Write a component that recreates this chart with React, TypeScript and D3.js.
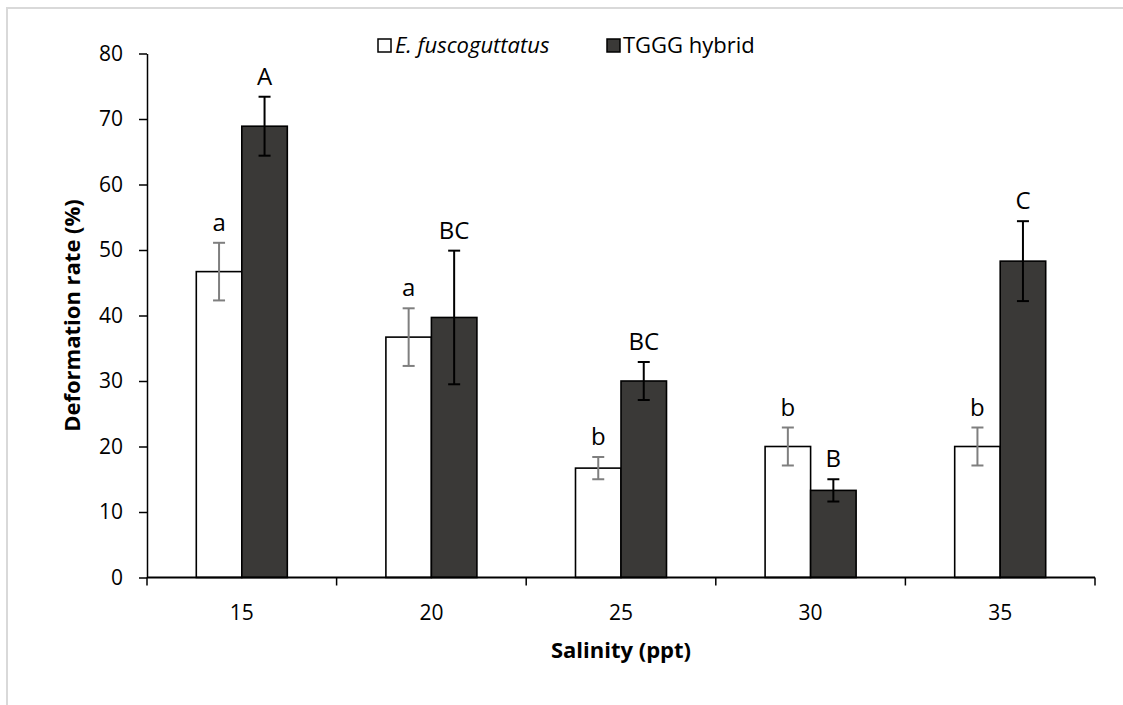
import React, {useEffect, useRef} from 'react'
import * as d3 from 'd3';

const salinity = ['15', '20', '25', '30', '35'];
const fuscoMean = [46.7, 36.7, 16.7, 20.0, 20.0];
const fuscoErr = [4.4, 4.4, 1.7, 2.9, 2.9];
const hybridMean = [68.9, 39.7, 30.0, 13.3, 48.3];
const hybridErr = [4.5, 10.2, 2.9, 1.7, 6.1];
const fuscoLetters = ['a', 'a', 'b', 'b', 'b'];
const hybridLetters = ['A', 'BC', 'BC', 'B', 'C'];
const yTicks = [0, 10, 20, 30, 40, 50, 60, 70, 80];

const FONT = '"Open Sans", "Noto Sans", sans-serif';

export default function App(){
    const svgRef = useRef<SVGSVGElement>(null);

    const W = 1123, H = 705;
    const margin = {top: 53.5, right: 28, left: 147, bottom: 127.5};

    useEffect(() => {
        const svg = d3.select(svgRef.current);
        svg.selectAll('*').remove();

        const x = d3.scaleBand()
            .domain(salinity)
            .range([margin.left, W - margin.right])
            .padding(0);

        const y = d3.scaleLinear()
            .domain([0, 80])
            .range([H - margin.bottom, margin.top]);

        const barW = x.bandwidth() * 0.24;
        const sub = d3.scaleBand()
            .domain(['fusco', 'hybrid'])
            .range([x.bandwidth() / 2 - barW, x.bandwidth() / 2 + barW]);

        // chart area frame: only top and left edges fall inside the picture
        svg.append('path')
            .attr('d', `M7,${H} V8 H${W}`)
            .attr('fill', 'none')
            .attr('stroke', '#d9d9d9')
            .attr('stroke-width', 2);

        const series = [
            {key: 'fusco', mean: fuscoMean, err: fuscoErr, letters: fuscoLetters, fill: '#ffffff', errColor: '#7f7f7f'},
            {key: 'hybrid', mean: hybridMean, err: hybridErr, letters: hybridLetters, fill: '#3a3937', errColor: '#000000'},
        ];

        series.forEach(s => {
            const g = svg.append('g');
            const rows = salinity.map((c, i) => ({c, v: s.mean[i], e: s.err[i], l: s.letters[i]}));

            g.selectAll('rect')
                .data(rows)
                .join('rect')
                .attr('x', d => x(d.c)! + sub(s.key)!)
                .attr('y', d => y(d.v))
                .attr('width', sub.bandwidth())
                .attr('height', d => y(0) - y(d.v))
                .attr('fill', s.fill)
                .attr('stroke', '#000')
                .attr('stroke-width', 1.6);

            const cx = (d: any) => x(d.c)! + sub(s.key)! + sub.bandwidth() / 2;

            g.selectAll('line.err')
                .data(rows)
                .join('line')
                .attr('class', 'err')
                .attr('x1', cx).attr('x2', cx)
                .attr('y1', d => y(d.v - d.e))
                .attr('y2', d => y(d.v + d.e))
                .attr('stroke', s.errColor)
                .attr('stroke-width', 2);

            [1, -1].forEach(sign => {
                g.selectAll('line.cap' + sign)
                    .data(rows)
                    .join('line')
                    .attr('class', 'cap' + sign)
                    .attr('x1', d => cx(d) - 6).attr('x2', d => cx(d) + 6)
                    .attr('y1', d => y(d.v + sign * d.e))
                    .attr('y2', d => y(d.v + sign * d.e))
                    .attr('stroke', s.errColor)
                    .attr('stroke-width', 2);
            });

            g.selectAll('text')
                .data(rows)
                .join('text')
                .attr('x', cx)
                .attr('y', d => y(d.v + d.e) - 12)
                .attr('text-anchor', 'middle')
                .attr('font-family', FONT)
                .attr('font-size', 24)
                .attr('fill', '#000')
                .text(d => d.l);
        });

        // y axis
        const yaxis = d3.axisLeft(y)
            .tickValues(yTicks)
            .tickSize(8)
            .tickPadding(16)
            .tickSizeOuter(0);

        svg.append('g')
            .attr('transform', `translate(${margin.left},0)`)
            .call(yaxis)
            .call(g => g.select('.domain').attr('stroke', '#000').attr('stroke-width', 1.5))
            .call(g => g.selectAll('.tick line').attr('stroke', '#000').attr('stroke-width', 1.5))
            .call(g => g.selectAll('.tick text')
                .attr('font-family', FONT)
                .attr('font-size', 21)
                .attr('fill', '#000'));

        // x axis: ticks on category boundaries, labels in the middle
        const xg = svg.append('g');
        const y0 = y(0);
        xg.append('line')
            .attr('x1', margin.left).attr('x2', W - margin.right)
            .attr('y1', y0).attr('y2', y0)
            .attr('stroke', '#000').attr('stroke-width', 1.8);

        const bounds = salinity.map(c => x(c)!).concat([W - margin.right]);
        xg.selectAll('line.tick')
            .data(bounds)
            .join('line')
            .attr('class', 'tick')
            .attr('x1', d => d).attr('x2', d => d)
            .attr('y1', y0).attr('y2', y0 + 8)
            .attr('stroke', '#000').attr('stroke-width', 1.5);

        xg.selectAll('text')
            .data(salinity)
            .join('text')
            .attr('x', d => x(d)! + x.bandwidth() / 2)
            .attr('y', y0 + 42)
            .attr('text-anchor', 'middle')
            .attr('font-family', FONT)
            .attr('font-size', 21)
            .text(d => d);

        // axis titles
        svg.append('text')
            .attr('x', (margin.left + W - margin.right) / 2)
            .attr('y', 658)
            .attr('text-anchor', 'middle')
            .attr('font-family', FONT)
            .attr('font-weight', 'bold')
            .attr('font-size', 22)
            .text('Salinity (ppt)');

        svg.append('text')
            .attr('transform', `translate(80,${y(40)}) rotate(-90)`)
            .attr('text-anchor', 'middle')
            .attr('font-family', FONT)
            .attr('font-weight', 'bold')
            .attr('font-size', 22)
            .text('Deformation rate (%)');

        // legend
        const lg = svg.append('g');
        lg.append('rect')
            .attr('x', 378).attr('y', 39)
            .attr('width', 13).attr('height', 13)
            .attr('fill', '#fff').attr('stroke', '#000').attr('stroke-width', 1.5);
        lg.append('text')
            .attr('x', 395).attr('y', 53)
            .attr('font-family', FONT)
            .attr('font-style', 'italic')
            .attr('font-size', 22)
            .text('E. fuscoguttatus');
        lg.append('rect')
            .attr('x', 607).attr('y', 39)
            .attr('width', 13).attr('height', 13)
            .attr('fill', '#3a3937').attr('stroke', '#000').attr('stroke-width', 1.5);
        lg.append('text')
            .attr('x', 623).attr('y', 53)
            .attr('font-family', FONT)
            .attr('font-size', 22)
            .text('TGGG hybrid');
    });

    return (
        <svg
            ref={svgRef}
            width={1123}
            height={705}
            style={{position: 'absolute', left: 0, top: 0, background: '#fff'}}
        >
        </svg>
    );
}
